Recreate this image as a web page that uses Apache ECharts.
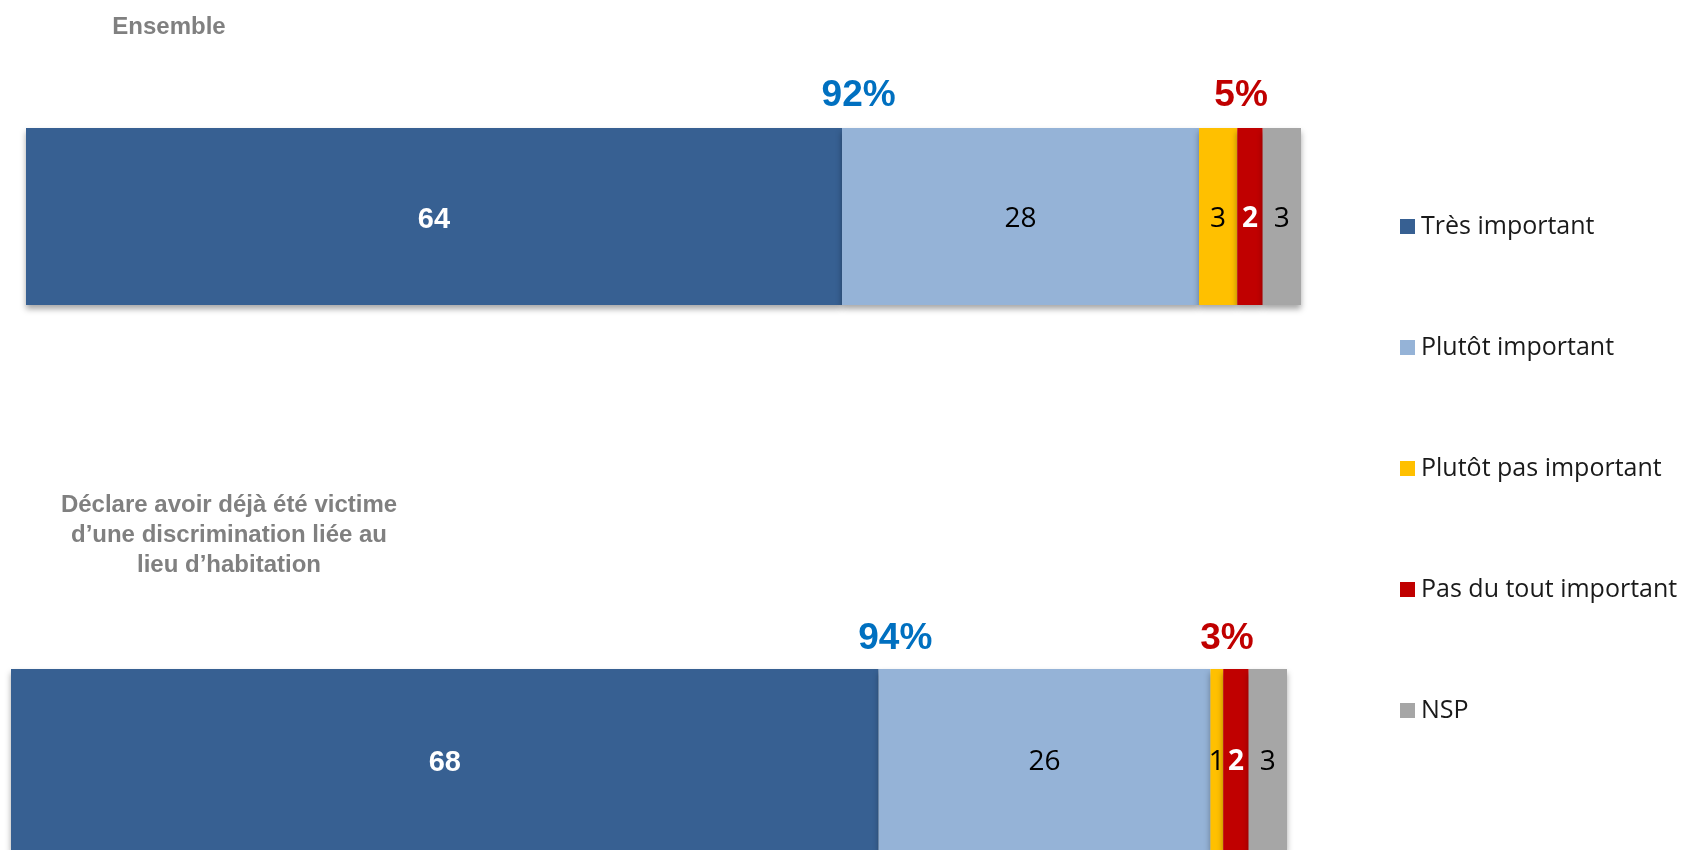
<!DOCTYPE html>
<html>
<head>
<meta charset="utf-8">
<script src="https://cdn.jsdelivr.net/npm/echarts@6/dist/echarts.min.js"></script>
<style>
  html, body { margin: 0; padding: 0; background: #fff; }
  #chart { width: 1689px; height: 850px; }
</style>
</head>
<body>
<div id="chart"></div>
<script>
const groupTitles = ['Ensemble', 'Déclare avoir déjà été victime\nd’une discrimination liée au\nlieu d’habitation']
const seriesNames = ['Très important', 'Plutôt important', 'Plutôt pas important', 'Pas du tout important', 'NSP']
const seriesColors = ['#376092', '#95B3D7', '#FFC000', '#C00000', '#A6A6A6']
// one row per group, one value per answer
const groupValues = [
	[64, 28, 3, 2, 3],
	[68, 26, 1, 2, 3],
]

const chart = echarts.init(document.getElementById('chart'))

const grids = [
	{ left: 26, width: 1275, top: 128, height: 177 },
	{ left: 11, width: 1276, top: 669, height: 181 },
]

const labelColors = ['#fff', '#000', '#000', '#fff', '#000']
const labelWeights = ['bold', 'normal', 'normal', 'bold', 'normal']
const labelFonts = ['"Liberation Sans Narrow", "Liberation Sans", sans-serif', '"Open Sans"', '"Open Sans"', '"Open Sans"', '"Open Sans"']

const series = []
groupValues.forEach((vals, g) => {
	vals.forEach((v, i) => {
		series.push({
			name: seriesNames[i],
			type: 'bar',
			stack: 'g' + g,
			xAxisIndex: g,
			yAxisIndex: g,
			barWidth: '100%',
			data: [v],
			itemStyle: {
				color: seriesColors[i],
				shadowColor: 'rgba(0,0,0,0.35)',
				shadowBlur: 6,
				shadowOffsetY: 4,
			},
			label: {
				show: true,
				position: 'inside',
				offset: [0, 3],
				color: labelColors[i],
				fontWeight: labelWeights[i],
				fontFamily: labelFonts[i],
				fontSize: i === 0 ? 29 : 28,
			},
		})
	})

	// totals above the bar: positive answers and negative answers
	const pos = vals[0] + vals[1]
	const neg = vals[2] + vals[3]
	series.push({
		type: 'scatter',
		xAxisIndex: g,
		yAxisIndex: g,
		symbolSize: 0,
		silent: true,
		itemStyle: { opacity: 1 },
		data: [
			{ value: [vals[0] + 1.3, 0], label: { formatter: pos + '%', color: '#0070C0' } },
			{ value: [95.3, 0], label: { formatter: neg + '%', color: '#C00000' } },
		],
		label: {
			show: true,
			opacity: 1,
			position: 'inside',
			offset: [0, -121],
			fontSize: 37,
			fontWeight: 'bold',
			fontFamily: '"Liberation Sans", Arial, sans-serif',
		},
	})
})

const option = {
	animation: false,
	grid: grids,
	xAxis: grids.map((_, i) => ({ type: 'value', gridIndex: i, min: 0, max: 100, show: false })),
	yAxis: grids.map((_, i) => ({ type: 'category', gridIndex: i, data: [groupTitles[i]], show: false })),
	legend: {
		orient: 'vertical',
		left: 1395,
		top: 209,
		itemWidth: 15,
		itemHeight: 15,
		itemGap: 96,
		icon: 'rect',
		data: seriesNames,
		textStyle: { fontFamily: '"Open Sans"', fontSize: 25, color: '#1a1a1a', lineHeight: 24, padding: [0, 0, 0, 1] },
	},
	title: [
		{
			text: groupTitles[0],
			left: 164,
			top: 10,
			textAlign: 'center',
			textStyle: { fontFamily: '"Liberation Sans", Arial', fontSize: 24, fontWeight: 'bold', color: '#808080' },
		},
		{
			text: groupTitles[1],
			left: 224,
			top: 485,
			textAlign: 'center',
			textStyle: { fontFamily: '"Liberation Sans", Arial', fontSize: 24, fontWeight: 'bold', color: '#808080', lineHeight: 30, align: 'center' },
		},
	],
	series: series,
}

chart.setOption(option)
</script>
</body>
</html>
